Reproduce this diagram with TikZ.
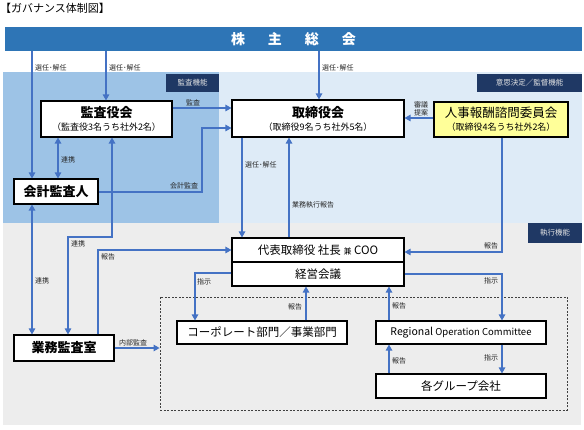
\documentclass[tikz,border=0pt]{standalone}
\usepackage{fontspec}
\setmainfont{Noto Sans CJK JP}
\usetikzlibrary{arrows.meta}
\definecolor{barblue}{HTML}{2E75B6}
\definecolor{midblue}{HTML}{9DC3E6}
\definecolor{lightblue}{HTML}{DEEBF7}
\definecolor{graybg}{HTML}{EDEDED}
\definecolor{navy}{HTML}{1F3864}
\definecolor{arrblue}{HTML}{4472C4}
\definecolor{yel}{HTML}{FFFF99}
\newcommand{\fs}[1]{\fontsize{#1}{#1}\selectfont}
\tikzset{
  box/.style={draw=black, line width=1.1pt, fill=white, inner sep=0pt, align=center},
  tag/.style={fill=navy, text=white!90!black, inner sep=0pt, font=\fs{7.5}},
  arr/.style={draw=arrblue, line width=1.2pt, -{Triangle[length=6pt,width=6.5pt]}},
  darr/.style={draw=arrblue, line width=1.2pt, {Triangle[length=6pt,width=6.5pt]}-{Triangle[length=6pt,width=6.5pt]}},
  lbl/.style={font=\fs{7}, text=black!85, inner sep=0pt},
}
\begin{document}
\begin{tikzpicture}[x=1pt,y=-1pt]
\useasboundingbox (0,0) rectangle (584,430);
% regions
\fill[graybg] (3,223) rectangle (581,425);
\fill[lightblue] (3,72) rectangle (582,223);
\fill[midblue] (3,72) rectangle (219,223);
% title
\node[anchor=west, inner sep=0pt, font=\fs{11}] (title) at (0,8) {【ガバナンス体制図】};
% bar
\node[fill=barblue, minimum width=577pt, minimum height=24pt, inner sep=0pt, text=white, font=\fs{14}\bfseries] (kabu) at (293.5,39) {株\hspace{23pt}主\hspace{23pt}総\hspace{23pt}会};
% tags
\node[tag, minimum width=53pt, minimum height=18pt] (kansakinou) at (192.5,83) {監査機能};
\node[tag, minimum width=105pt, minimum height=18pt] (ishikettei) at (529.5,83) {意思決定／監督機能};
\node[tag, minimum width=54pt, minimum height=20pt] (shikkou) at (555,233) {執行機能};
% boxes
\node[box, minimum width=131pt, minimum height=36pt] (kansayaku) at (106.5,119)
  {{\fs{13}\bfseries 監査役会}\\[1pt]{\fs{9}（監査役3名うち社外2名）}};
\node[box, minimum width=172pt, minimum height=37pt] (torishimari) at (318,118.5)
  {{\fs{13}\bfseries 取締役会}\\[1pt]{\fs{9}（取締役9名うち社外5名）}};
\node[box, fill=yel, line width=1.6pt, minimum width=134pt, minimum height=35pt] (jinji) at (501,119.5)
  {{\fs{12.5}人事報酬諮問委員会}\\[1pt]{\fs{9}（取締役4名うち社外2名）}};
\node[box, minimum width=84pt, minimum height=25pt, font=\fs{13}\bfseries] (kaikei) at (56,191.5) {会計監査人};
\node[box, minimum width=172pt, minimum height=24pt, font=\fs{11.5}] (daihyo) at (318,250) {代表取締役 社長 {\fs{8}兼} COO};
\node[box, minimum width=172pt, minimum height=24pt, font=\fs{11.5}] (keiei) at (318,274) {経営会議};
\node[box, minimum width=100pt, minimum height=26pt, font=\fs{13}\bfseries] (gyomu) at (64,348) {業務監査室};
\node[draw=black!75, dash pattern=on 2pt off 1.5pt, line width=0.8pt, minimum width=407pt, minimum height=113pt, inner sep=0pt] (dash) at (363.5,353.5) {};
\node[box, minimum width=170pt, minimum height=23pt, font=\fs{11.5}] (corp) at (262,332.5) {コーポレート部門／事業部門};
\node[box, minimum width=170pt, minimum height=23pt] (regional) at (461,332.5) {{\fs{10.5}Regional} {\fs{9.5}Operation Committee}};
\node[box, minimum width=170pt, minimum height=24pt, font=\fs{11.5}] (group) at (461,386) {各グループ会社};
% connectors
\draw[arr] (32,0 |- kabu.south) -- (32,0 |- kaikei.north);
\node[lbl, anchor=west] (l1) at (35,68) {選任･解任};
\draw[arr] (106,0 |- kabu.south) -- (106,0 |- kansayaku.north);
\node[lbl, anchor=west] (l2) at (109,68) {選任･解任};
\draw[arr] (319,0 |- kabu.south) -- (319,0 |- torishimari.north);
\node[lbl, anchor=west] (l3) at (322,68) {選任･解任};
\draw[arr] (kansayaku.east |- 0,108) -- (torishimari.west |- 0,108);
\node[lbl] (l4) at (193,103) {監査};
\draw[arr] (kaikei.east |- 0,192) -- (202,192) -- (202,128) -- (torishimari.west |- 0,128);
\node[lbl] (l5) at (184,186) {会計監査};
\draw[darr] (58,0 |- kansayaku.south) -- (58,0 |- kaikei.north);
\node[lbl, anchor=west] (l6) at (61,160) {連携};
\draw[darr] (68,0 |- gyomu.north) -- (68,237) -- (112,237) -- (112,0 |- kansayaku.south);
\node[lbl, anchor=west] (l7) at (71,244) {連携};
\draw[darr] (32,0 |- kaikei.south) -- (32,0 |- gyomu.north);
\node[lbl, anchor=west] (l8) at (35,281) {連携};
\draw[arr] (98,0 |- gyomu.north) -- (98,250) -- (daihyo.west);
\node[lbl, anchor=west] (l9) at (101,257) {報告};
\draw[arr] (242,0 |- torishimari.south) -- (242,0 |- daihyo.north);
\node[lbl, anchor=west] (l10) at (245,165) {選任･解任};
\draw[arr] (289,0 |- daihyo.north) -- (289,0 |- torishimari.south);
\node[lbl, anchor=west] (l11) at (292,205) {業務執行報告};
\draw[arr] (jinji.west |- 0,118) -- (torishimari.east |- 0,118);
\node[lbl, align=center] (l12) at (421,109) {審議\\[1pt]提案};
\draw[arr] (502,0 |- jinji.south) -- (502,252) -- (daihyo.east |- 0,252);
\node[lbl] (l13) at (491,246) {報告};
\draw[arr] (keiei.west |- 0,273) -- (195,273) -- (195,0 |- corp.north);
\node[lbl, anchor=west] (l14) at (197,282) {指示};
\draw[arr] (keiei.east |- 0,274) -- (502,274) -- (502,0 |- regional.north);
\node[lbl] (l15) at (491,281) {指示};
\draw[arr] (306,0 |- corp.north) -- (306,0 |- keiei.south);
\node[lbl] (l16) at (295,307) {報告};
\draw[arr] (389,0 |- regional.north) -- (389,0 |- keiei.south);
\node[lbl, anchor=west] (l17) at (392,306) {報告};
\draw[arr] (502,0 |- regional.south) -- (502,0 |- group.north);
\node[lbl] (l18) at (491,358) {指示};
\draw[arr] (389,0 |- group.north) -- (389,0 |- regional.south);
\node[lbl, anchor=west] (l19) at (392,361) {報告};
\draw[arr] (gyomu.east |- 0,348) -- (dash.west |- 0,348);
\node[lbl] (l20) at (133,343) {内部監査};
\end{tikzpicture}
\end{document}
